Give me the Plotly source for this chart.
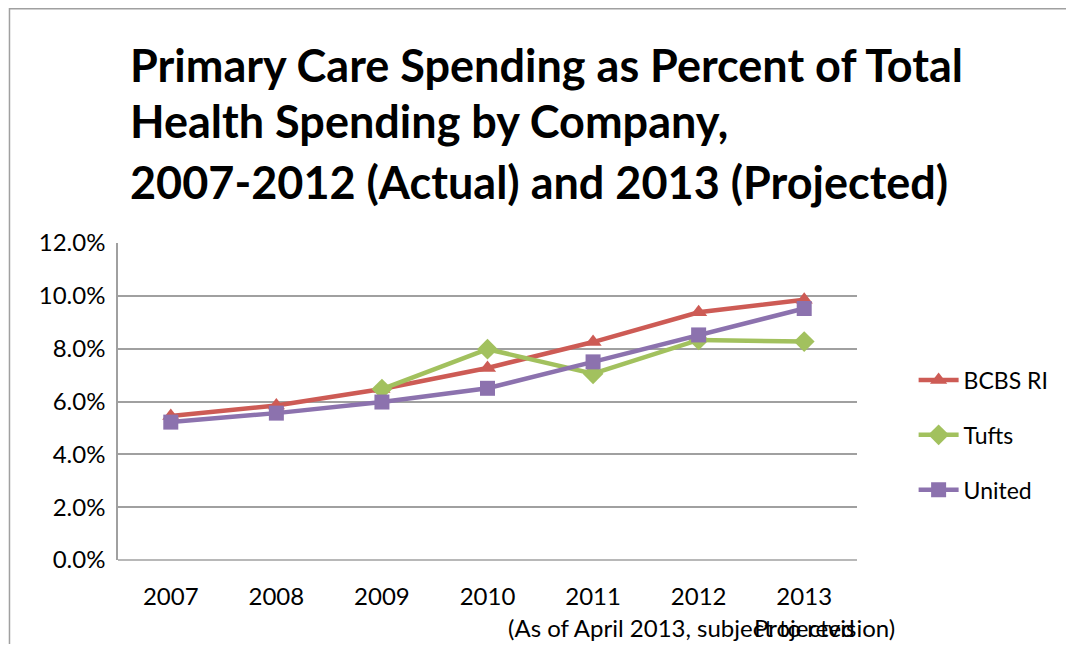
import plotly.graph_objects as go

years = ["2007", "2008", "2009", "2010", "2011", "2012", "2013"]
bcbs = [5.45, 5.85, 6.47, 7.27, 8.25, 9.38, 9.85]
tufts = [None, None, 6.47, 7.98, 7.05, 8.33, 8.27]
united = [5.22, 5.56, 5.98, 6.5, 7.5, 8.52, 9.52]
y_ticks = [0, 2, 4, 6, 8, 10, 12]
y_tick_labels = ["0.0%", "2.0%", "4.0%", "6.0%", "8.0%", "10.0%", "12.0%"]
title_lines = [
    "Primary Care Spending as Percent of Total",
    "Health Spending by Company,",
    "2007-2012 (Actual) and 2013 (Projected)",
]

FONT = "Lato"
OFF = 8  # page body margin
W, H = 1074 - 2 * OFF, 652 - 2 * OFF
L, T = 118 - OFF, 243 - OFF
R = W - (862 - OFF)
B = H - (560 - OFF)
PW, PH = W - L - R, H - T - B


def px_x(page_x):
    return (page_x - OFF - L) / PW


def px_y(page_y):
    return (H - B - (page_y - OFF)) / PH


fig = go.Figure()
series = [
    ("BCBS RI", bcbs, "#CD5B55", "triangle-up"),
    ("Tufts", tufts, "#A2C15E", "diamond"),
    ("United", united, "#8C72AE", "square"),
]
for name, vals, col, sym in series:
    fig.add_trace(go.Scatter(
        x=years, y=vals, name=name, mode="lines+markers",
        line=dict(color=col, width=4.5),
        marker=dict(symbol=sym, size=15 if sym != "diamond" else 16, color=col),
        legendgroup=name,
    ))

fig.update_layout(
    width=W, height=H,
    margin=dict(l=L, r=R, t=T, b=B),
    paper_bgcolor="white", plot_bgcolor="white",
    font=dict(family=FONT, size=24, color="black"),
    showlegend=True,
    legend=dict(
        x=px_x(919), y=px_y(435), xanchor="left", yanchor="middle",
        font=dict(size=23, family=FONT), traceorder="grouped",
        tracegroupgap=22, itemwidth=40, bgcolor="rgba(0,0,0,0)",
    ),
    xaxis=dict(
        type="category", range=[-0.5, 6.5], showgrid=False,
        showline=False, ticks="", tickfont=dict(size=24, family=FONT),
        ticklabelstandoff=20,
    ),
    yaxis=dict(
        range=[0, 12], tickvals=y_ticks, ticktext=y_tick_labels,
        showgrid=True, gridcolor="#A0A0A0", gridwidth=1.5,
        showline=True, linecolor="#A0A0A0", linewidth=1.5,
        zeroline=False, ticks="", tickfont=dict(size=24, family=FONT),
        ticklabelstandoff=6,
    ),
)

# x axis baseline
fig.add_shape(type="line", xref="paper", yref="paper", x0=0, x1=1, y0=0, y1=0,
              line=dict(color="#A0A0A0", width=1.5))
# outer chart border
fig.add_shape(type="rect", xref="paper", yref="paper",
              x0=px_x(OFF + 0.75), x1=1.5,
              y0=-1, y1=px_y(OFF + 0.75),
              line=dict(color="#A0A0A0", width=1.5), layer="below")

title_y = [65, 121, 182]
for line, yc in zip(title_lines, title_y):
    fig.add_annotation(
        text=f"<b>{line}</b>", xref="paper", yref="paper",
        x=px_x(128), xanchor="left",
        y=px_y(yc), yanchor="middle",
        showarrow=False, font=dict(size=45, family=FONT, color="black"),
    )

fig.add_annotation(text="(As of April 2013, subject to revision)",
                   xref="paper", yref="paper", x=px_x(705), xanchor="center",
                   y=px_y(627), yanchor="middle",
                   showarrow=False, font=dict(size=24, family=FONT))
fig.add_annotation(text="Projected", xref="x", x=years.index("2013"),
                   xanchor="center", yref="paper",
                   y=px_y(627), yanchor="middle",
                   showarrow=False, font=dict(size=24, family=FONT))

fig.write_html("out.html")
